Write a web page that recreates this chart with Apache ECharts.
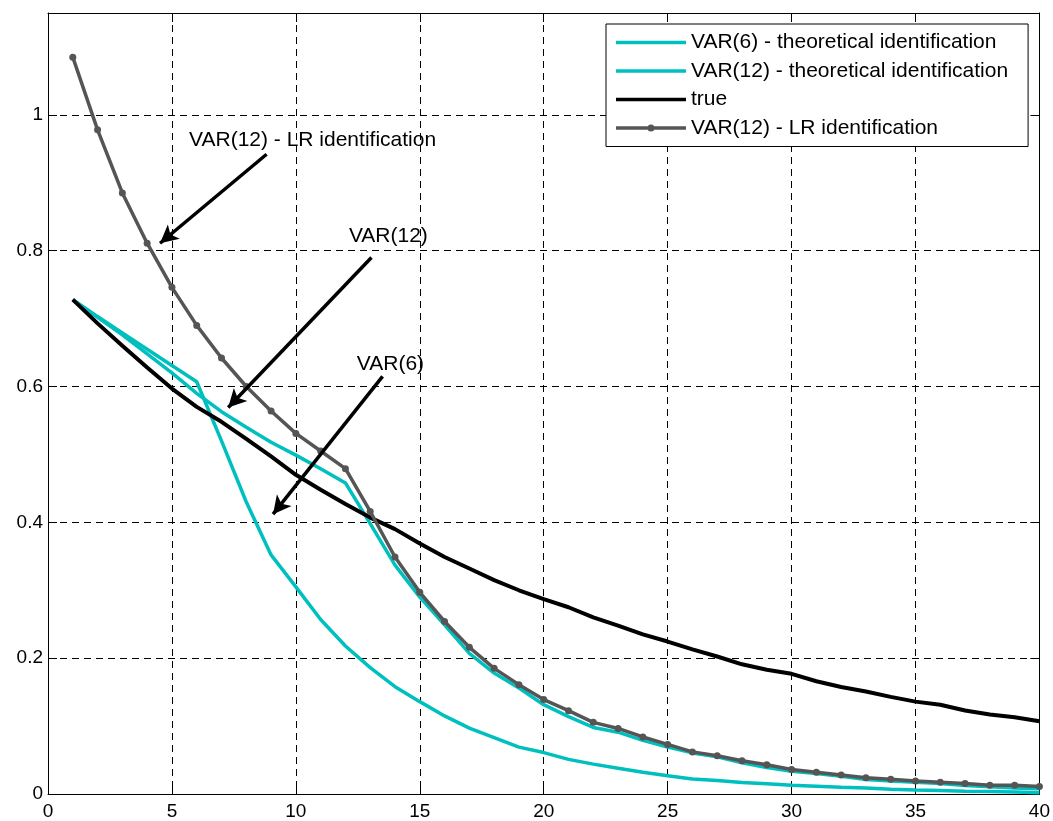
<!DOCTYPE html>
<html>
<head>
<meta charset="utf-8">
<script src="https://cdn.jsdelivr.net/npm/echarts@6/dist/echarts.min.js"></script>
<style>
html,body{margin:0;padding:0;background:#fff;}
#chart{width:1053px;height:821px;}
</style>
</head>
<body>
<div id="chart"></div>
<script>
// ---- data ----
var horizon = [];
for (var i = 1; i <= 40; i++) horizon.push(i);

var seriesNames = [
  'VAR(6) - theoretical identification',
  'VAR(12) - theoretical identification',
  'true',
  'VAR(12) - LR identification'
];

var var6Theoretical = [0.728, 0.703, 0.679, 0.655, 0.631, 0.607, 0.520, 0.430, 0.352, 0.305,
  0.257, 0.218, 0.186, 0.158, 0.136, 0.115, 0.097, 0.083, 0.069, 0.061,
  0.051, 0.044, 0.038, 0.032, 0.027, 0.022, 0.020, 0.017, 0.015, 0.013,
  0.0115, 0.010, 0.009, 0.007, 0.0058, 0.005, 0.004, 0.0035, 0.003, 0.002];

var var12Theoretical = [0.728, 0.702, 0.676, 0.648, 0.620, 0.590, 0.563, 0.540, 0.518, 0.499,
  0.479, 0.458, 0.398, 0.337, 0.290, 0.249, 0.207, 0.178, 0.156, 0.1315,
  0.114, 0.098, 0.091, 0.079, 0.069, 0.0605, 0.0547, 0.046, 0.039, 0.0335,
  0.030, 0.026, 0.0213, 0.019, 0.0174, 0.0154, 0.0125, 0.0106, 0.009, 0.0076];

var trueResponse = [0.728, 0.693, 0.660, 0.628, 0.597, 0.570, 0.548, 0.523, 0.497, 0.470,
  0.448, 0.427, 0.407, 0.390, 0.369, 0.349, 0.332, 0.315, 0.300, 0.287,
  0.275, 0.260, 0.248, 0.235, 0.2245, 0.213, 0.2025, 0.191, 0.183, 0.177,
  0.166, 0.1575, 0.151, 0.143, 0.136, 0.1315, 0.123, 0.117, 0.113, 0.107];

var var12LR = [1.085, 0.978, 0.885, 0.811, 0.746, 0.690, 0.642, 0.600, 0.564, 0.531,
  0.505, 0.479, 0.416, 0.349, 0.297, 0.254, 0.216, 0.185, 0.161, 0.139,
  0.1227, 0.1055, 0.0965, 0.084, 0.073, 0.062, 0.0562, 0.049, 0.043, 0.036,
  0.032, 0.028, 0.024, 0.0218, 0.0193, 0.0174, 0.0154, 0.013, 0.0128, 0.011];

var xTicks = [0, 5, 10, 15, 20, 25, 30, 35, 40];
var yTicks = [0, 0.2, 0.4, 0.6, 0.8, 1];

// annotations (data coordinates)
var annotations = [
  {text: 'VAR(12) - LR identification', at: [5.69, 0.962], from: [8.82, 0.942], to: [4.52, 0.811]},
  {text: 'VAR(12)', at: [12.14, 0.822], from: [13.05, 0.790], to: [7.27, 0.569]},
  {text: 'VAR(6)', at: [12.46, 0.633], from: [13.50, 0.615], to: [9.08, 0.412]}
];

function pairs(ys) { return horizon.map(function (x, i) { return [x, ys[i]]; }); }

var FONT = '"Liberation Sans", Arial, Helvetica, sans-serif';
var chart = echarts.init(document.getElementById('chart'), null, {renderer: 'canvas'});

var tickFmt = function (v) {
  for (var k = 0; k < yTicks.length; k++) if (Math.abs(v - yTicks[k]) < 1e-9) return String(yTicks[k]);
  return '';
};

var axisCommon = {
  axisLine: {show: true, onZero: false, lineStyle: {color: '#000', width: 1}},
  axisTick: {show: true, inside: true, length: 9, lineStyle: {color: '#000', width: 1}}
};

var ICON_LINE = 'path://M0,0L70,0L70,3.5L0,3.5Z';
var ICON_LINE_DOT = 'path://M0,5.25L70,5.25L70,8.75L0,8.75Z M38.5,7A3.5,3.5,0,1,1,31.5,7A3.5,3.5,0,1,1,38.5,7Z';

var option = {
  animation: false,
  backgroundColor: '#fff',
  grid: {left: 48, top: 13, right: 12, bottom: 26.5, containLabel: false},
  legend: {
    data: [
      {name: seriesNames[0], icon: ICON_LINE},
      {name: seriesNames[1], icon: ICON_LINE},
      {name: seriesNames[2], icon: ICON_LINE},
      {name: seriesNames[3], icon: ICON_LINE_DOT}
    ],
    orient: 'vertical',
    left: 606,
    top: 24,
    itemWidth: 70,
    itemHeight: 14,
    itemGap: 7.5,
    symbolKeepAspect: true,
    padding: [8, 20, 8, 10],
    backgroundColor: '#fff',
    borderColor: '#000',
    borderWidth: 1,
    borderRadius: 0,
    selectedMode: false,
    textStyle: {fontFamily: FONT, fontSize: 21, color: '#000'}
  },
  xAxis: [
    Object.assign({}, axisCommon, {
      type: 'value', min: 0, max: 40, interval: 5, position: 'bottom',
      axisLabel: {fontFamily: FONT, fontSize: 19, color: '#000', margin: 8},
      splitLine: {show: true, lineStyle: {color: '#000', width: 1, type: [7, 5]}}
    }),
    Object.assign({}, axisCommon, {
      type: 'value', min: 0, max: 40, interval: 5, position: 'top',
      axisLabel: {show: false}, splitLine: {show: false}
    })
  ],
  yAxis: [
    Object.assign({}, axisCommon, {
      type: 'value', min: 0, max: 1.15, interval: 0.2, position: 'left',
      axisLabel: {fontFamily: FONT, fontSize: 19, color: '#000', margin: 5, formatter: tickFmt, showMaxLabel: false},
      splitLine: {show: true, lineStyle: {color: '#000', width: 1, type: [7, 5]}}
    }),
    Object.assign({}, axisCommon, {
      type: 'value', min: 0, max: 1.15, interval: 0.2, position: 'right',
      axisLabel: {show: false}, splitLine: {show: false}
    })
  ],
  series: [
    {
      name: seriesNames[0], type: 'line', data: pairs(var6Theoretical),
      showSymbol: false, symbol: 'none',
      lineStyle: {color: '#00BFBF', width: 3.5}, itemStyle: {color: '#00BFBF'}, z: 2
    },
    {
      name: seriesNames[1], type: 'line', data: pairs(var12Theoretical),
      showSymbol: false, symbol: 'none',
      lineStyle: {color: '#00BFBF', width: 3.5}, itemStyle: {color: '#00BFBF'}, z: 2
    },
    {
      name: seriesNames[2], type: 'line', data: pairs(trueResponse),
      showSymbol: false, symbol: 'none',
      lineStyle: {color: '#000', width: 4}, itemStyle: {color: '#000'}, z: 3
    },
    {
      name: seriesNames[3], type: 'line', data: pairs(var12LR),
      symbol: 'circle', symbolSize: 7, showSymbol: true,
      lineStyle: {color: '#555555', width: 3.5}, itemStyle: {color: '#555555'}, z: 4,
      markLine: {
        silent: true,
        symbol: ['none', 'arrow'],
        symbolSize: [14, 18],
        label: {show: false},
        lineStyle: {color: '#000', width: 3.5, type: 'solid'},
        data: annotations.map(function (a) {
          return [{coord: a.from}, {coord: a.to}];
        })
      }
    }
  ]
};

chart.setOption(option);

var graphics = annotations.map(function (a) {
  var p = chart.convertToPixel({xAxisIndex: 0, yAxisIndex: 0}, a.at);
  return {
    type: 'text', x: p[0], y: p[1], z: 100,
    style: {text: a.text, fill: '#000', font: '21px ' + FONT, textAlign: 'left', textVerticalAlign: 'middle'}
  };
});
chart.setOption({graphic: graphics});
</script>
</body>
</html>
